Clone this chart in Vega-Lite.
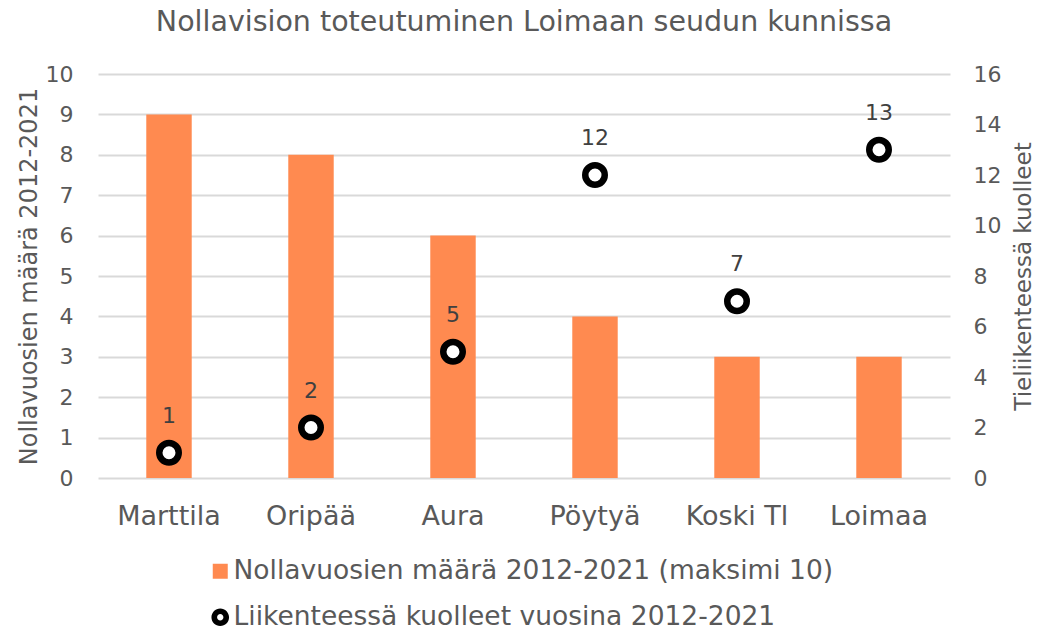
{
  "$schema": "https://vega.github.io/schema/vega-lite/v6.json",
  "autosize": {"type": "none"},
  "width": 852,
  "height": 404,
  "padding": {"left": 98, "top": 74, "right": 90, "bottom": 154},
  "background": "white",
  "config": {
    "font": "DejaVu Sans",
    "view": {"stroke": null},
    "axis": {"labelColor": "#595959", "titleColor": "#595959", "labelFont": "DejaVu Sans", "titleFont": "DejaVu Sans", "titleFontWeight": "normal", "labelOverlap": false}
  },
  "title": {"text": "Nollavision toteutuminen Loimaan seudun kunnissa", "fontSize": 28.5, "fontWeight": "normal", "color": "#595959", "offset": 27, "anchor": "middle"},
  "data": {"values": [
    {"kunta": "Marttila", "nollavuodet": 9, "kuolleet": 1},
    {"kunta": "Oripää", "nollavuodet": 8, "kuolleet": 2},
    {"kunta": "Aura", "nollavuodet": 6, "kuolleet": 5},
    {"kunta": "Pöytyä", "nollavuodet": 4, "kuolleet": 12},
    {"kunta": "Koski Tl", "nollavuodet": 3, "kuolleet": 7},
    {"kunta": "Loimaa", "nollavuodet": 3, "kuolleet": 13}
  ]},
  "encoding": {
    "x": {"field": "kunta", "type": "nominal", "sort": null,
      "scale": {"paddingInner": 0.68, "paddingOuter": 0.34},
      "axis": {"title": null, "labelAngle": 0, "labelFontSize": 27, "domain": false, "ticks": false, "labelPadding": 25}}
  },
  "layer": [
    {
      "mark": {"type": "bar", "color": "#FF8A50"},
      "encoding": {
        "y": {"field": "nollavuodet", "type": "quantitative",
          "scale": {"domain": [0, 10]},
          "axis": {"title": "Nollavuosien määrä 2012-2021", "titleFontSize": 24, "titlePadding": 4, "labelFontSize": 22, "labelPadding": 25, "values": [0,1,2,3,4,5,6,7,8,9,10], "domain": false, "ticks": false, "gridColor": "#D9D9D9", "gridWidth": 2}},
        "color": {"datum": "Nollavuosien määrä 2012-2021 (maksimi 10)",
          "scale": {"domain": ["Nollavuosien määrä 2012-2021 (maksimi 10)", "Liikenteessä kuolleet vuosina 2012-2021"], "range": ["#FF8A50", "black"]},
          "legend": {"title": null, "orient": "none", "legendX": 109, "legendY": 484, "direction": "vertical",
            "labelFontSize": 26.5, "labelColor": "#595959", "labelFont": "DejaVu Sans", "labelLimit": 1000, "rowPadding": 19, "symbolSize": 289, "labelOffset": 0,
            "encode": {"symbols": {"update": {
              "shape": {"signal": "datum.value === 'Nollavuosien määrä 2012-2021 (maksimi 10)' ? 'square' : 'M1,0 C1,0.5523 0.5523,1 0,1 C-0.5523,1 -1,0.5523 -1,0 C-1,-0.5523 -0.5523,-1 0,-1 C0.5523,-1 1,-0.5523 1,0 Z M0.36,0 C0.36,-0.1988 0.1988,-0.36 0,-0.36 C-0.1988,-0.36 -0.36,-0.1988 -0.36,0 C-0.36,0.1988 -0.1988,0.36 0,0.36 C0.1988,0.36 0.36,0.1988 0.36,0 Z'"},
              "size": {"signal": "datum.value === 'Nollavuosien määrä 2012-2021 (maksimi 10)' ? 225 : 310"},
              "strokeWidth": {"value": 0}
            }}}}}
      }
    },
    {
      "mark": {"type": "point", "filled": false, "shape": "circle", "size": 380, "strokeWidth": 6.5, "fill": "white", "fillOpacity": 1, "opacity": 1},
      "encoding": {
        "y": {"field": "kuolleet", "type": "quantitative",
          "scale": {"domain": [0, 16]},
          "axis": {"orient": "right", "title": "Tieliikenteessä kuolleet", "titleAngle": 270, "titleFontSize": 23, "titlePadding": 35, "labelFontSize": 22, "labelPadding": 23, "values": [0,2,4,6,8,10,12,14,16], "domain": false, "ticks": false, "grid": false}},
        "color": {"datum": "Liikenteessä kuolleet vuosina 2012-2021"}
      }
    },
    {
      "mark": {"type": "text", "dy": -37, "fontSize": 22, "color": "#404040"},
      "encoding": {
        "y": {"field": "kuolleet", "type": "quantitative", "scale": {"domain": [0, 16]}, "axis": null},
        "text": {"field": "kuolleet", "type": "quantitative"}
      }
    }
  ],
  "resolve": {"scale": {"y": "independent"}}
}
